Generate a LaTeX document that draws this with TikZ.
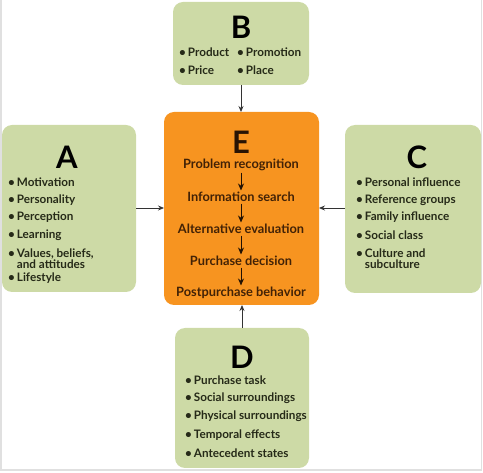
\documentclass[tikz,border=0pt]{standalone}
\usepackage{fontspec}
\setmainfont{Lato}
\usetikzlibrary{positioning,arrows.meta}
\newcommand{\pxsize}{1pt}
\definecolor{boxgreen}{RGB}{205,218,166}
\definecolor{stageorange}{RGB}{247,148,32}
\definecolor{itemink}{RGB}{38,42,24}
\definecolor{stageink}{RGB}{66,34,6}
\newcommand{\factoritem}[4]{
	\node[itemlabel] (#1) at (#2,#3) {\textbullet\,#4};
}
\tikzset{
	factorbox/.style={fill=boxgreen, rounded corners=10pt},
	stagebox/.style={fill=stageorange, rounded corners=10pt},
	boxtitle/.style={font=\fontsize{31}{31}\selectfont\bfseries, inner sep=0pt},
	itemlabel/.style={anchor=west, align=left, inner sep=0pt, text=itemink, font=\fontsize{11.7}{11.5}\selectfont\bfseries},
	stagelabel/.style={inner sep=1.5pt, text=stageink, font=\fontsize{12.8}{13}\selectfont\bfseries},
	flowarrow/.style={-{Stealth[length=6pt,width=5pt]}, line width=0.8pt, draw=black!80},
	steparrow/.style={-{Stealth[length=7pt,width=6pt]}, line width=0.9pt, draw=stageink!50!black},
}

\begin{document}
\begin{tikzpicture}[x=\pxsize,y=-\pxsize]
	\useasboundingbox (0,0) rectangle (483,473);
	\draw[black!12, line width=1.5pt] (1,0) -- (1,470) -- (481.5,470) -- (481.5,0);

	% boxes
	\path[factorbox] (173,2) rectangle (309,85);
	\path[factorbox] (2,125) rectangle (136,292);
	\path[factorbox] (345,125) rectangle (481,293);
	\path[factorbox] (175,328) rectangle (309,468);
	\path[stagebox] (164,112) rectangle (319,305);
	\coordinate (B) at (241,85);
	\coordinate (A) at (136,208);
	\coordinate (C) at (345,208);
	\coordinate (D) at (242,328);
	\coordinate (Etop) at (241,112);
	\coordinate (Eleft) at (164,208);
	\coordinate (Eright) at (319,208);
	\coordinate (Ebottom) at (242,305);

	\node[boxtitle] (Btitle) at (241,27) {B};
	\factoritem{price1}{179}{52}{Product}
	\factoritem{price2}{179}{70}{Price}
	\factoritem{prom1}{237}{52}{Promotion}
	\factoritem{prom2}{237}{70}{Place}

	\node[boxtitle] (Atitle) at (67,157) {A};
	\factoritem{mot}{8}{182}{Motivation}
	\factoritem{pers}{8}{200}{Personality}
	\factoritem{perc}{8}{217}{Perception}
	\factoritem{learn}{8}{235}{Learning}
	\factoritem{vals}{8}{258.5}{Values, beliefs,\\\phantom{\textbullet\,}and attitudes}
	\factoritem{life}{8}{278}{Lifestyle}

	\node[boxtitle] (Ctitle) at (417,157) {C};
	\factoritem{persinf}{356}{182}{Personal influence}
	\factoritem{refgr}{356}{200}{Reference groups}
	\factoritem{faminf}{356}{217}{Family influence}
	\factoritem{socl}{356}{235}{Social class}
	\factoritem{cult}{356}{258.5}{Culture and\\\phantom{\textbullet\,}subculture}

	\node[boxtitle] (Dtitle) at (242,357) {D};
	\factoritem{task}{185}{380}{Purchase task}
	\factoritem{socsur}{185}{398}{Social surroundings}
	\factoritem{physur}{185}{416}{Physical surroundings}
	\factoritem{temp}{185}{435}{Temporal effects}
	\factoritem{ante}{185}{453}{Antecedent states}

	\node[boxtitle, text=stageink!60!black] (Etitle) at (241,142) {E};
	\node[stagelabel] (s1) at (241,165) {Problem recognition};
	\node[stagelabel] (s2) at (241,197) {Information search};
	\node[stagelabel] (s3) at (241,229) {Alternative evaluation};
	\node[stagelabel] (s4) at (241,261) {Purchase decision};
	\node[stagelabel] (s5) at (241,293) {Postpurchase behavior};
	\foreach \a/\b in {s1/s2,s2/s3,s3/s4,s4/s5}
		\draw[steparrow] (\a) -- (\b);

	\draw[flowarrow] (B) -- (Etop);
	\draw[flowarrow] (A) -- (Eleft);
	\draw[flowarrow] (C) -- (Eright);
	\draw[flowarrow] (D) -- (Ebottom);
\end{tikzpicture}
\end{document}
